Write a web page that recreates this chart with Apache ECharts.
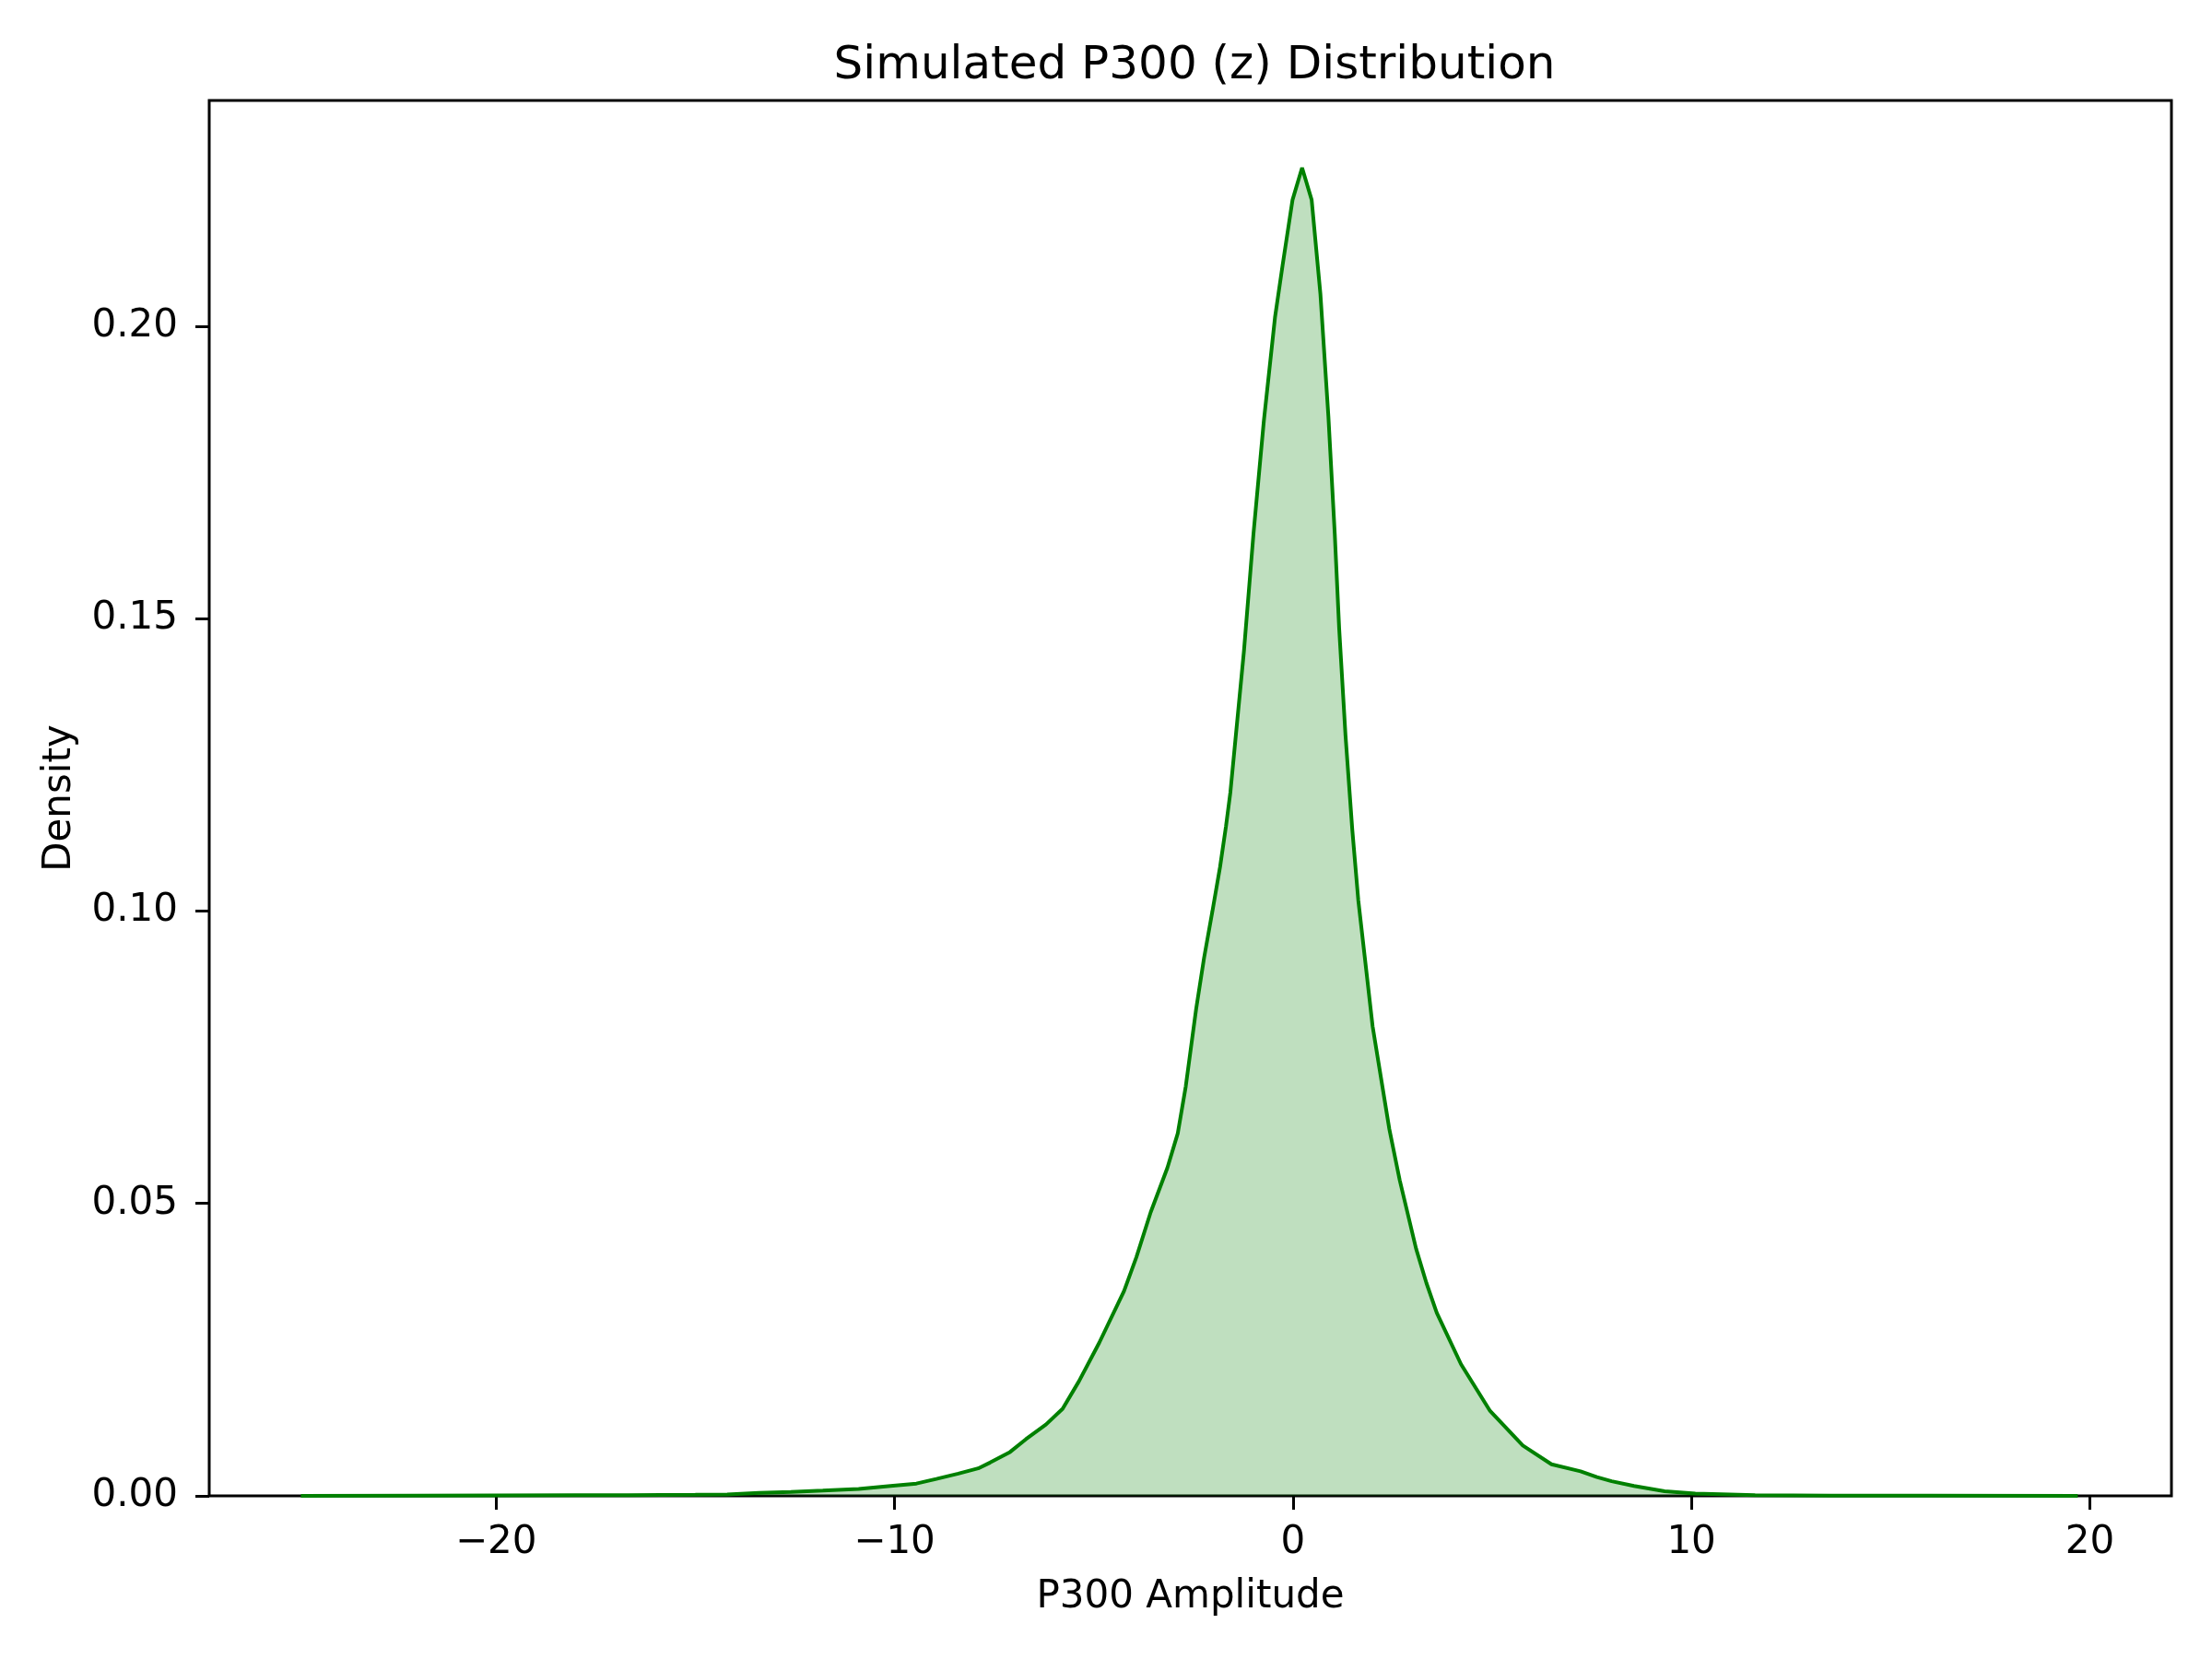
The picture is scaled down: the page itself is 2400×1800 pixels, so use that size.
<!DOCTYPE html>
<html>
<head>
<meta charset="utf-8">
<script src="https://cdn.jsdelivr.net/npm/echarts@6/dist/echarts.min.js"></script>
<style>
html,body{margin:0;padding:0;background:#fff;}
#chart{width:2400px;height:1800px;}
</style>
</head>
<body>
<div id="chart"></div>
<script>
// KDE curve (x = P300 amplitude, y = density)
const amplitude = [
  -24.9, -22, -20, -18, -16.7, -15, -14.2, -13.4, -12.6, -11.8, -10.9, -10.1,
  -9.45, -8.95, -8.4, -7.9, -7.6, -7.1, -6.7, -6.2, -5.78, -5.37, -4.86, -4.24,
  -3.93, -3.57, -3.15, -2.89, -2.69, -2.43, -2.23, -2.02, -1.83, -1.68, -1.57,
  -1.23, -0.99, -0.73, -0.45, -0.26, -0.01, 0.23, 0.47, 0.69, 0.89, 1.05, 1.16,
  1.32, 1.49, 1.64, 1.80, 2.00, 2.21, 2.42, 2.68, 3.09, 3.35, 3.61, 4.22, 4.95,
  5.77, 6.49, 7.22, 7.63, 8.0, 8.56, 9.33, 10.1, 11.6, 13.5, 16, 19.7
];
const density = [
  0.00000, 0.00003, 0.00006, 0.0001, 0.00012, 0.00018, 0.00025, 0.0005, 0.00066, 0.0009, 0.0012, 0.0017,
  0.0021, 0.0029, 0.0038, 0.0047, 0.0057, 0.0075, 0.0097, 0.0122, 0.0149, 0.0196, 0.0262, 0.0350,
  0.0408, 0.0485, 0.0561, 0.0620, 0.0700, 0.0832, 0.0920, 0.1000, 0.1075, 0.1145, 0.1203,
  0.1444, 0.1645, 0.1838, 0.2015, 0.2104, 0.2216, 0.2271, 0.2216, 0.2055, 0.1846, 0.1645, 0.1484,
  0.1300, 0.1139, 0.1019, 0.0923, 0.0803, 0.0715, 0.0627, 0.0540, 0.0423, 0.0364, 0.0313, 0.0225, 0.0145,
  0.0086, 0.0054, 0.0042, 0.0032, 0.0025, 0.0017, 0.0008, 0.0004, 0.00013, 0.00005, 0.00002, 0.0
];
const xTicks = [-20, -10, 0, 10, 20];
const yTicks = [0, 0.05, 0.10, 0.15, 0.20];

const FONT = 'DejaVu Sans';
const chart = echarts.init(document.getElementById('chart'), null, {renderer: 'canvas'});
const pts = amplitude.map((x, i) => [x, density[i]]);

chart.setOption({
  animation: false,
  backgroundColor: '#fff',
  title: {
    text: 'Simulated P300 (z) Distribution',
    left: 1291, top: 42, textAlign: 'center',
    textStyle: {fontFamily: FONT, fontSize: 50, fontWeight: 'normal', color: '#000'}
  },
  grid: {
    left: 227, right: 44, top: 109, bottom: 177,
    show: true, borderColor: '#000', borderWidth: 3, backgroundColor: 'transparent'
  },
  xAxis: {
    type: 'value', min: -27.2, max: 22.05,
    name: 'P300 Amplitude', nameLocation: 'middle', nameGap: 89,
    nameTextStyle: {fontFamily: FONT, fontSize: 42, color: '#000'},
    axisLine: {show: false, onZero: false},
    splitLine: {show: false},
    axisTick: {show: true, customValues: xTicks, length: 15, inside: false, lineStyle: {color: '#000', width: 3}},
    axisLabel: {
      customValues: xTicks, margin: 30,
      fontFamily: FONT, fontSize: 42, color: '#000',
      formatter: v => (v < 0 ? '\u2212' + Math.abs(v) : String(v))
    }
  },
  yAxis: {
    type: 'value', min: 0, max: 0.2386,
    name: 'Density', nameLocation: 'middle', nameGap: 141, nameRotate: 90,
    nameTextStyle: {fontFamily: FONT, fontSize: 42, color: '#000'},
    axisLine: {show: false, onZero: false},
    splitLine: {show: false},
    axisTick: {show: true, customValues: yTicks, length: 15, inside: false, lineStyle: {color: '#000', width: 3}},
    axisLabel: {
      customValues: yTicks, margin: 34,
      fontFamily: FONT, fontSize: 42, color: '#000',
      formatter: v => v.toFixed(2)
    }
  },
  series: [{
    type: 'line',
    data: pts,
    showSymbol: false,
    symbol: 'none',
    smooth: false,
    lineStyle: {color: '#008000', width: 4},
    itemStyle: {color: '#008000'},
    areaStyle: {color: 'rgba(0,128,0,0.25)', opacity: 1, origin: 'start'}
  }]
});
</script>
</body>
</html>
